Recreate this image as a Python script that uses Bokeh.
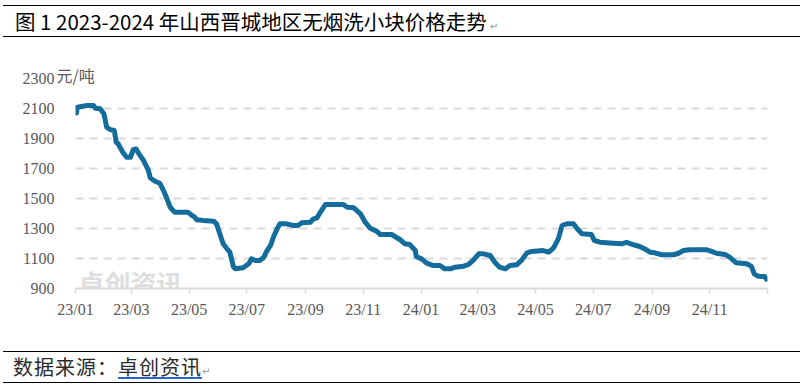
import pandas as pd
from bokeh.plotting import figure
from bokeh.models import (Range1d, FixedTicker, DatetimeTickFormatter, Label, Title, Div,
                          ColumnDataSource)
from bokeh.layouts import column
from bokeh.embed import file_html
from bokeh.resources import INLINE

# ---------------- data ----------------
title_text = "图 1 2023-2024 年山西晋城地区无烟洗小块价格走势"
source_label = "数据来源："
source_name = "卓创资讯"
unit_text = "元/吨"
watermark_cn = "卓创资讯"

dates = [
    "2023-01-02", "2023-01-03", "2023-01-13", "2023-01-20", "2023-01-22", "2023-01-27",
    "2023-01-31", "2023-02-03", "2023-02-07", "2023-02-11", "2023-02-13", "2023-02-15",
    "2023-02-20", "2023-02-24", "2023-02-28", "2023-03-03", "2023-03-06", "2023-03-08",
    "2023-03-14", "2023-03-19", "2023-03-21", "2023-03-26", "2023-03-31", "2023-04-04",
    "2023-04-07", "2023-04-11", "2023-04-14", "2023-04-16", "2023-04-30", "2023-05-04",
    "2023-05-07", "2023-05-09", "2023-05-16", "2023-05-27", "2023-05-30", "2023-06-03",
    "2023-06-06", "2023-06-10", "2023-06-13", "2023-06-17", "2023-06-19", "2023-06-27",
    "2023-07-03", "2023-07-06", "2023-07-10", "2023-07-15", "2023-07-19", "2023-07-22",
    "2023-07-26", "2023-07-29", "2023-08-02", "2023-08-05", "2023-08-12", "2023-08-19",
    "2023-08-24", "2023-08-28", "2023-09-06", "2023-09-09", "2023-09-13", "2023-09-16",
    "2023-09-22", "2023-10-11", "2023-10-15", "2023-10-22", "2023-10-29", "2023-11-03",
    "2023-11-08", "2023-11-15", "2023-11-19", "2023-12-01", "2023-12-10", "2023-12-15",
    "2023-12-20", "2023-12-26", "2023-12-27", "2024-01-02", "2024-01-07", "2024-01-14",
    "2024-01-21", "2024-01-26", "2024-02-01", "2024-02-06", "2024-02-15", "2024-02-20",
    "2024-02-25", "2024-03-02", "2024-03-07", "2024-03-14", "2024-03-19", "2024-03-24",
    "2024-03-30", "2024-04-04", "2024-04-11", "2024-04-16", "2024-04-22", "2024-04-27",
    "2024-05-09", "2024-05-15", "2024-05-20", "2024-05-25", "2024-05-29", "2024-06-03",
    "2024-06-10", "2024-06-14", "2024-06-19", "2024-06-29", "2024-07-02", "2024-07-08",
    "2024-07-22", "2024-07-31", "2024-08-05", "2024-08-12", "2024-08-19", "2024-08-24",
    "2024-08-30", "2024-09-04", "2024-09-11", "2024-09-24", "2024-09-29", "2024-10-04",
    "2024-10-11", "2024-10-29", "2024-11-03", "2024-11-08", "2024-11-17", "2024-11-22",
    "2024-11-29", "2024-12-10", "2024-12-15", "2024-12-18", "2024-12-22", "2024-12-29",
    "2024-12-31",
]
prices = [
    2070, 2108, 2120, 2120, 2102, 2098,
    2065, 1975, 1958, 1953, 1875, 1865,
    1808, 1775, 1775, 1825, 1830, 1808,
    1753, 1687, 1638, 1615, 1602, 1553,
    1508, 1442, 1420, 1408, 1408, 1387,
    1375, 1358, 1353, 1349, 1331, 1253,
    1198, 1165, 1142, 1042, 1031, 1038,
    1065, 1098, 1087, 1087, 1109, 1149,
    1187, 1242, 1298, 1331, 1331, 1320,
    1320, 1338, 1342, 1362, 1371, 1402,
    1460, 1460, 1442, 1438, 1398, 1342,
    1304, 1282, 1260, 1260, 1225, 1198,
    1193, 1153, 1113, 1096, 1069, 1053,
    1053, 1031, 1031, 1042, 1049, 1060,
    1087, 1131, 1131, 1120, 1075, 1042,
    1031, 1053, 1058, 1087, 1138, 1147,
    1153, 1142, 1171, 1231, 1320, 1331,
    1331, 1298, 1265, 1260, 1220, 1209,
    1202, 1198, 1207, 1193, 1180, 1165,
    1142, 1138, 1125, 1125, 1135, 1153,
    1158, 1158, 1147, 1135, 1127, 1109,
    1071, 1065, 1047, 998, 982, 980,
    962,
]

x_tick_dates = ["2023-01-01", "2023-03-01", "2023-05-01", "2023-07-01", "2023-09-01",
                "2023-11-01", "2024-01-01", "2024-03-01", "2024-05-01", "2024-07-01",
                "2024-09-01", "2024-11-01"]
x_end_date = "2025-01-01"
y_ticks = [900, 1100, 1300, 1500, 1700, 1900, 2100, 2300]
y_min, y_max = 900, 2300

# ---------------- styles ----------------
LINE_COLOR = "#146c9c"
GRID_COLOR = "#d9d9d9"
LABEL_COLOR = "#595959"
CJK = "Noto Sans CJK SC"
SERIF = "Liberation Serif"
W = 809


def ms(d):
    return pd.Timestamp(d).timestamp() * 1000.0


x_start = ms(x_tick_dates[0])
x_end = ms(x_end_date)

src = ColumnDataSource(data=dict(date=pd.to_datetime(dates), price=prices))

# ---------------- header ----------------
RULE = "position:absolute;left:3px;width:797px;height:0;border-top:1.5px solid #000;"
header_html = (
    '<div style="position:relative;width:809px;height:40px;margin:0;padding:0;">'
    f'<div style="{RULE}top:5px;"></div>'
    '<div style="position:absolute;left:15px;top:11px;white-space:nowrap;'
    f"font-family:'{CJK}';font-size:20.5px;line-height:21px;color:#000;\">"
    f'{title_text}<span style="font-family:\'DejaVu Sans\';font-size:10px;color:#9a9a9a;'
    'margin-left:3px;">↵</span></div>'
    f'<div style="{RULE}top:36px;"></div>'
    '</div>'
)
header = Div(text=header_html, width=W, height=40, margin=0,
             styles={"padding": "0", "margin": "0"})

# ---------------- main chart ----------------
p = figure(width=W, height=306, x_axis_type="datetime",
           x_range=Range1d(x_start, x_end), y_range=Range1d(y_min, y_max),
           output_backend="svg", toolbar_location=None, title=None,
           min_border_left=75, min_border_right=42, min_border_top=38, min_border_bottom=58)
p.outline_line_color = None
p.background_fill_color = "white"
p.border_fill_color = "white"

# watermark (behind everything)
p.add_layout(Label(x=x_start, y=y_min, x_offset=3, y_offset=6, text=watermark_cn,
                   text_font=CJK, text_font_size="26px", text_font_style="bold",
                   text_color="#dedede", text_baseline="middle", level="underlay"))

p.line(x="date", y="price", source=src, line_color=LINE_COLOR, line_width=5,
       line_join="round", line_cap="round")

# y axis
p.yaxis.ticker = FixedTicker(ticks=y_ticks)
p.ygrid.ticker = FixedTicker(ticks=y_ticks)
p.yaxis.axis_line_color = None
p.yaxis.major_tick_line_color = None
p.yaxis.minor_tick_line_color = None
p.yaxis.major_label_standoff = 15
p.yaxis.major_label_text_font = SERIF
p.yaxis.major_label_text_font_size = "16px"
p.yaxis.major_label_text_color = LABEL_COLOR
p.ygrid.grid_line_color = GRID_COLOR
p.ygrid.grid_line_dash = "8 6"
p.ygrid.grid_line_width = 2
p.xgrid.visible = False

# unit text next to the top tick label
p.add_layout(Title(text=unit_text, align="left", offset=-19, standoff=-17,
                   vertical_align="bottom", text_font=CJK, text_font_size="16px",
                   text_font_style="normal", text_color=LABEL_COLOR), "above")

# x axis
p.xaxis.ticker = FixedTicker(ticks=[ms(d) for d in x_tick_dates], minor_ticks=[x_end])
p.xaxis.formatter = DatetimeTickFormatter(days="%y/%m", months="%y/%m", years="%y/%m")
p.xaxis.axis_line_color = GRID_COLOR
p.xaxis.axis_line_width = 2
p.xaxis.major_tick_in = 0
p.xaxis.major_tick_out = 5
p.xaxis.major_tick_line_color = GRID_COLOR
p.xaxis.major_tick_line_width = 1.5
p.xaxis.minor_tick_in = 0
p.xaxis.minor_tick_out = 5
p.xaxis.minor_tick_line_color = GRID_COLOR
p.xaxis.minor_tick_line_width = 1.5
p.xaxis.major_label_standoff = 7
p.xaxis.major_label_text_font = SERIF
p.xaxis.major_label_text_font_size = "16px"
p.xaxis.major_label_text_color = LABEL_COLOR

# ---------------- footer ----------------
footer_html = (
    '<div style="position:relative;width:809px;height:43px;margin:0;padding:0;">'
    f'<div style="{RULE}top:5px;"></div>'
    '<div style="position:absolute;left:13px;top:10px;white-space:nowrap;'
    f"font-family:'{CJK}';font-size:20px;line-height:21px;letter-spacing:1px;color:#2a2a2a;\">"
    f'{source_label}{source_name}<span style="font-family:\'DejaVu Sans\';font-size:10px;'
    'color:#9a9a9a;letter-spacing:0;">↵</span></div>'
    '<div style="position:absolute;left:118px;top:31px;width:84px;height:0;'
    'border-top:2px solid #2b63d3;"></div>'
    f'<div style="{RULE}top:36px;"></div>'
    '</div>'
)
footer = Div(text=footer_html, width=W, height=43, margin=0,
             styles={"padding": "0", "margin": "0"})

layout = column(header, p, footer, spacing=0)
open("out.html", "w").write(file_html(layout, INLINE))
